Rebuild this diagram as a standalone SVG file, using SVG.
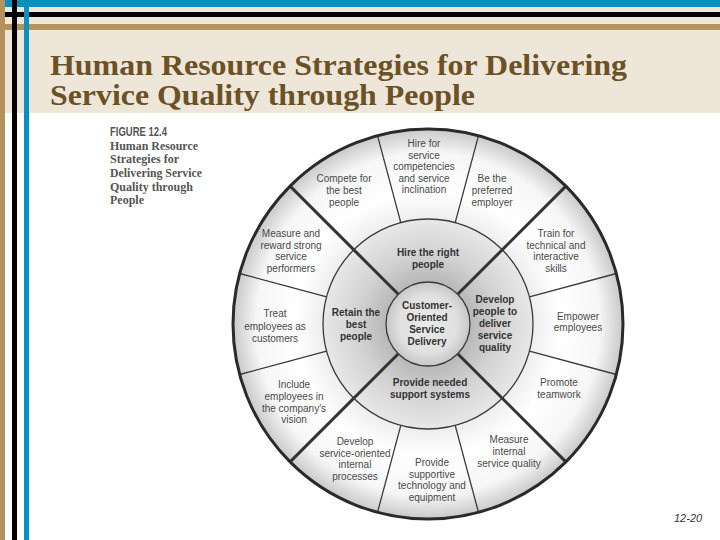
<svg xmlns="http://www.w3.org/2000/svg" width="720" height="540" viewBox="0 0 720 540">
  <defs>
    <radialGradient id="gOuter" gradientUnits="userSpaceOnUse" cx="428" cy="324" r="195">
      <stop offset="0.54" stop-color="#eeeeee"/>
      <stop offset="0.68" stop-color="#ffffff"/>
      <stop offset="0.88" stop-color="#f6f6f6"/>
      <stop offset="1" stop-color="#c9c9c9"/>
    </radialGradient>
    <radialGradient id="gMid" gradientUnits="userSpaceOnUse" cx="428" cy="324" r="195">
      <stop offset="0.215" stop-color="#b8b8b8"/>
      <stop offset="0.36" stop-color="#d2d2d2"/>
      <stop offset="0.54" stop-color="#e8e8e8"/>
    </radialGradient>
    <radialGradient id="gIn" gradientUnits="userSpaceOnUse" cx="428" cy="324" r="42">
      <stop offset="0" stop-color="#eaeaea"/>
      <stop offset="0.7" stop-color="#e0e0e0"/>
      <stop offset="1" stop-color="#c6c6c6"/>
    </radialGradient>
  </defs>
  <style>
    .o { font-family: "Liberation Sans", Arial, sans-serif; font-size: 10px; fill: #4a4a4a; text-anchor: middle; }
    .m { font-family: "Liberation Sans", Arial, sans-serif; font-size: 10px; font-weight: bold; fill: #333333; text-anchor: middle; }
    .thin { stroke: #3a3a3a; stroke-width: 1.3; fill: none; }
    .thick { stroke: #333333; stroke-width: 3; fill: none; }
    .cap { font-family: "Liberation Serif", "Times New Roman", serif; font-size: 12px; font-weight: bold; fill: #555555; }
  </style>

  <!-- slide background -->
  <rect x="0" y="0" width="720" height="540" fill="#ffffff"/>
  <rect x="0" y="0" width="720" height="113" fill="#efe6da"/>
  <rect x="0" y="0" width="720" height="7" fill="#0a8fc0"/>
  <rect x="0" y="12" width="720" height="5" fill="#000000"/>
  <rect x="0" y="24" width="720" height="6" fill="#b3925e"/>
  <rect x="0" y="0" width="5" height="540" fill="#b3925e"/>
  <rect x="12" y="0" width="5" height="540" fill="#000000"/>
  <rect x="24" y="0" width="5" height="540" fill="#0a8fc0"/>

  <g id="title" font-family="'Liberation Serif', 'Times New Roman', serif" font-weight="bold" font-size="30" fill="#6b5226">
    <text x="50" y="75" textLength="577" lengthAdjust="spacingAndGlyphs">Human Resource Strategies for Delivering</text>
    <text x="50" y="105" textLength="425" lengthAdjust="spacingAndGlyphs">Service Quality through People</text>
  </g>

  <g id="caption">
    <text x="110" y="136" font-family="'Liberation Sans', Arial, sans-serif" font-weight="bold" font-size="12.5" fill="#555555" textLength="57" lengthAdjust="spacingAndGlyphs">FIGURE 12.4</text>
    <text class="cap" x="110" y="150" textLength="88" lengthAdjust="spacingAndGlyphs">Human Resource</text>
    <text class="cap" x="110" y="163">Strategies for</text>
    <text class="cap" x="110" y="177" textLength="92" lengthAdjust="spacingAndGlyphs">Delivering Service</text>
    <text class="cap" x="110" y="191">Quality through</text>
    <text class="cap" x="110" y="204">People</text>
  </g>

  <!-- wheel backgrounds -->
  <g id="wheel">
    <circle cx="428" cy="324" r="195" fill="url(#gOuter)"/>
    <circle cx="428" cy="324" r="105" fill="url(#gMid)"/>
    <circle cx="428" cy="324" r="42" fill="url(#gIn)"/>
  </g>

  <g id="connectors">
    <line class="thin" x1="455.2" y1="222.6" x2="478.5" y2="135.6"/>
    <line class="thin" x1="400.8" y1="222.6" x2="377.5" y2="135.6"/>
    <line class="thin" x1="529.4" y1="296.8" x2="616.4" y2="273.5"/>
    <line class="thin" x1="529.4" y1="351.2" x2="616.4" y2="374.5"/>
    <line class="thin" x1="326.6" y1="296.8" x2="239.6" y2="273.5"/>
    <line class="thin" x1="326.6" y1="351.2" x2="239.6" y2="374.5"/>
    <line class="thin" x1="400.8" y1="425.4" x2="377.5" y2="512.4"/>
    <line class="thin" x1="455.2" y1="425.4" x2="478.5" y2="512.4"/>
    <line class="thick" x1="457.7" y1="294.3" x2="565.9" y2="186.1"/>
    <line class="thick" x1="398.3" y1="294.3" x2="290.1" y2="186.1"/>
    <line class="thick" x1="398.3" y1="353.7" x2="290.1" y2="461.9"/>
    <line class="thick" x1="457.7" y1="353.7" x2="565.9" y2="461.9"/>
    <circle class="thin" cx="428" cy="324" r="105"/>
    <circle class="thin" cx="428" cy="324" r="42"/>
    <circle cx="428" cy="324" r="195" fill="none" stroke="#2a2a2a" stroke-width="3"/>
  </g>

  <!-- center -->
  <g id="center">
    <text class="m" x="427" y="309">Customer-</text>
    <text class="m" x="427" y="321">Oriented</text>
    <text class="m" x="427" y="333">Service</text>
    <text class="m" x="427" y="345">Delivery</text>
  </g>

  <!-- middle ring -->
  <g id="hire-right-people">
    <text class="m" x="428" y="256">Hire the right</text>
    <text class="m" x="428" y="268">people</text>
  </g>
  <g id="develop-people">
    <text class="m" x="495" y="303">Develop</text>
    <text class="m" x="495" y="315">people to</text>
    <text class="m" x="495" y="327">deliver</text>
    <text class="m" x="495" y="339">service</text>
    <text class="m" x="495" y="351">quality</text>
  </g>
  <g id="support-systems">
    <text class="m" x="430" y="386">Provide needed</text>
    <text class="m" x="430" y="398">support systems</text>
  </g>
  <g id="retain-best">
    <text class="m" x="356" y="316">Retain the</text>
    <text class="m" x="356" y="328">best</text>
    <text class="m" x="356" y="340">people</text>
  </g>

  <!-- outer ring -->
  <g id="compete">
    <text class="o" x="344" y="182">Compete for</text>
    <text class="o" x="344" y="194">the best</text>
    <text class="o" x="344" y="206">people</text>
  </g>
  <g id="hire-competencies">
    <text class="o" x="424" y="147">Hire for</text>
    <text class="o" x="424" y="158.5">service</text>
    <text class="o" x="424" y="170">competencies</text>
    <text class="o" x="424" y="181.5">and service</text>
    <text class="o" x="424" y="193">inclination</text>
  </g>
  <g id="preferred-employer">
    <text class="o" x="492" y="182">Be the</text>
    <text class="o" x="492" y="194">preferred</text>
    <text class="o" x="492" y="206">employer</text>
  </g>
  <g id="train">
    <text class="o" x="556" y="237">Train for</text>
    <text class="o" x="556" y="248.5">technical and</text>
    <text class="o" x="556" y="260">interactive</text>
    <text class="o" x="556" y="271.5">skills</text>
  </g>
  <g id="empower">
    <text class="o" x="578" y="320">Empower</text>
    <text class="o" x="578" y="331">employees</text>
  </g>
  <g id="teamwork">
    <text class="o" x="559" y="386">Promote</text>
    <text class="o" x="559" y="398">teamwork</text>
  </g>
  <g id="measure-internal">
    <text class="o" x="509" y="443">Measure</text>
    <text class="o" x="509" y="455">internal</text>
    <text class="o" x="509" y="466.5">service quality</text>
  </g>
  <g id="supportive-technology">
    <text class="o" x="432" y="466">Provide</text>
    <text class="o" x="432" y="477.5">supportive</text>
    <text class="o" x="432" y="489">technology and</text>
    <text class="o" x="432" y="501">equipment</text>
  </g>
  <g id="internal-processes">
    <text class="o" x="355" y="445">Develop</text>
    <text class="o" x="355" y="456.5">service-oriented</text>
    <text class="o" x="355" y="468">internal</text>
    <text class="o" x="355" y="480">processes</text>
  </g>
  <g id="include-vision">
    <text class="o" x="294" y="388">Include</text>
    <text class="o" x="294" y="400">employees in</text>
    <text class="o" x="294" y="411.5">the company's</text>
    <text class="o" x="294" y="423">vision</text>
  </g>
  <g id="treat-customers">
    <text class="o" x="275" y="317">Treat</text>
    <text class="o" x="275" y="330">employees as</text>
    <text class="o" x="275" y="341.5">customers</text>
  </g>
  <g id="measure-reward">
    <text class="o" x="291" y="237">Measure and</text>
    <text class="o" x="291" y="248.5">reward strong</text>
    <text class="o" x="291" y="260">service</text>
    <text class="o" x="291" y="272">performers</text>
  </g>

  <text x="674" y="522" font-family="'Liberation Sans', Arial, sans-serif" font-style="italic" font-size="11" fill="#333333">12-20</text>
</svg>
